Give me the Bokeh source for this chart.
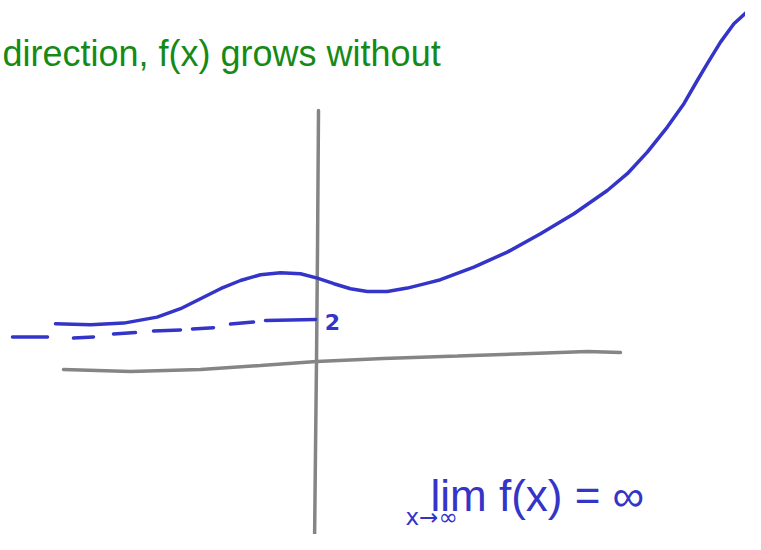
from bokeh.plotting import figure
from bokeh.models import Range1d
from bokeh.core.properties import value
from bokeh.embed import file_html
from bokeh.resources import INLINE

# --- data (sketch coordinates: origin at axes crossing, y=2 is the asymptote) ---
curve_x = [-13.05, -11.3, -9.64, -7.97, -6.8, -5.8, -4.8, -3.8, -2.8, -1.8, -0.8, 0.04,
           0.87, 1.7, 2.54, 3.54, 4.54, 5.54, 6.2, 7.87, 9.54, 11.2, 12.87, 14.54, 15.54,
           16.54, 17.54, 18.37, 19.04, 19.54, 20.2, 20.87, 21.54]
curve_y = [1.84, 1.79, 1.87, 2.17, 2.59, 3.09, 3.59, 4.0, 4.29, 4.39, 4.34, 4.12,
           3.84, 3.59, 3.45, 3.45, 3.62, 3.87, 4.04, 4.67, 5.42, 6.34, 7.34, 8.5, 9.34,
           10.42, 11.67, 12.84, 14.0, 14.84, 15.92, 16.84, 17.45]

dash_x0 = [-15.2, -12.15, -10.15, -8.15, -6.2, -4.3, -2.55]
dash_x1 = [-13.45, -11.15, -9.05, -6.8, -5.15, -3.15, -0.05]
dash_y0 = [1.17, 1.12, 1.33, 1.48, 1.58, 1.82, 2.0]
dash_y1 = [1.18, 1.18, 1.4, 1.53, 1.64, 1.92, 2.05]

xaxis_x = [-12.65, -9.3, -5.8, -2.8, 0.0, 3.35, 7.05, 10.75, 13.55, 15.2]
xaxis_y = [-0.45, -0.55, -0.45, -0.25, -0.05, 0.1, 0.22, 0.35, 0.45, 0.4]

yaxis_x = [0.1, 0.05, 0.0, -0.05, -0.1]
yaxis_y = [12.5, 5.5, -0.05, -4.5, -9.25]

asymptote_label = "2"
note_text = "direction,  f(x)  grows  without"
limit_text = "lim f(x) = ∞"
limit_sub = "x→∞"

BLUE = "#3434c8"
GREEN = "#168a16"
GRAY = "#858585"

p = figure(width=745, height=534, output_backend="svg", toolbar_location=None,
           x_range=Range1d(-15.8, 21.45), y_range=Range1d(-8.7, 18.0),
           min_border=0, background_fill_color="white", border_fill_color="white")
p.axis.visible = False
p.grid.visible = False
p.outline_line_color = None

# axes (hand drawn)
p.line(xaxis_x, xaxis_y, line_color=GRAY, line_width=3.5, line_cap="round")
p.line(yaxis_x, yaxis_y, line_color=GRAY, line_width=3.5, line_cap="round")

# asymptote dashes
p.segment(x0=dash_x0, y0=dash_y0, x1=dash_x1, y1=dash_y1, line_color=BLUE,
          line_width=3.5, line_cap="round")

# function curve
p.line(curve_x, curve_y, line_color=BLUE, line_width=3.5, line_cap="round",
       line_join="round")

# texts
p.text(x=[0.8], y=[1.95], text=[asymptote_label], text_color=BLUE,
       text_font=value("DejaVu Sans"), text_font_size="22px", text_font_style="bold",
       text_baseline="middle", text_align="center")
p.text(x=[-15.7], y=[15.35], text=[note_text], text_color=GREEN,
       text_font=value("Liberation Sans"), text_font_size="36px",
       text_baseline="alphabetic", text_align="left")
p.text(x=[5.7], y=[-6.75], text=[limit_text], text_color=BLUE,
       text_font=value("Liberation Sans"), text_font_size="44px",
       text_baseline="alphabetic", text_align="left")
p.text(x=[4.45], y=[-7.8], text=[limit_sub], text_color=BLUE,
       text_font=value("DejaVu Sans"), text_font_size="23px",
       text_baseline="alphabetic", text_align="left")

open("out.html", "w").write(file_html(p, INLINE))
